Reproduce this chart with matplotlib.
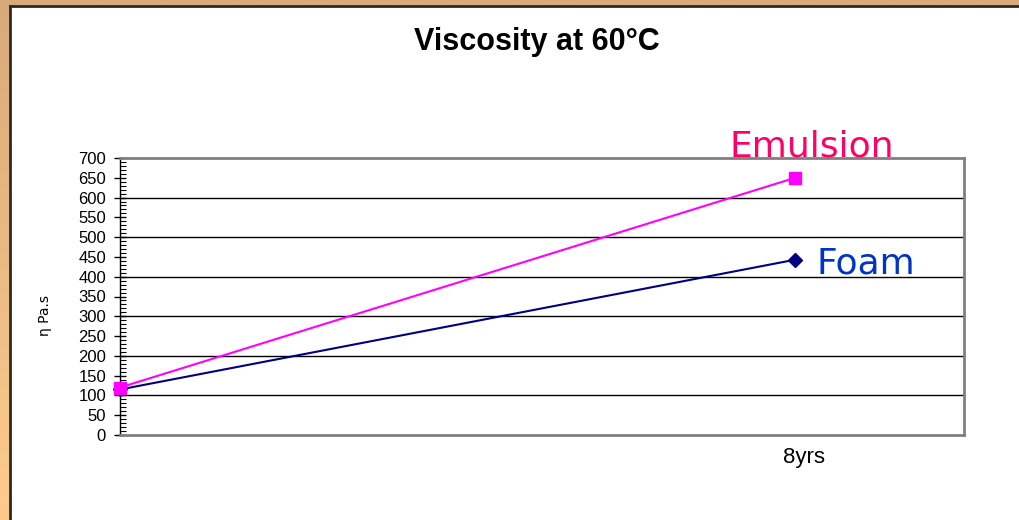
import numpy as np
import matplotlib
matplotlib.use("Agg")
import matplotlib.pyplot as plt
from matplotlib.ticker import MultipleLocator
from matplotlib.patches import Rectangle
from matplotlib.lines import Line2D
from matplotlib.colors import LinearSegmentedColormap
from matplotlib.transforms import ScaledTranslation

# ---- data ----
x_years = [0, 8]
tick_labels = ["8yrs"]
foam = [115, 443]
emulsion = [120, 650]
title = "Viscosity at 60°C"
ylabel = "η Pa.s"

W, H = 1020, 520
fig = plt.figure(figsize=(W / 100, H / 100), dpi=100)

# background frame with tan gradient
bg = fig.add_axes([0, 0, 1, 1])
bg.set_axis_off()
grad = np.linspace(0, 1, 256).reshape(-1, 1)
cmap = LinearSegmentedColormap.from_list("tan", ["#D8A97A", "#FFCB8D"])
bg.imshow(grad, aspect="auto", cmap=cmap, extent=[0, 1, 0, 1], origin="upper")
bg.set_xlim(0, 1)
bg.set_ylim(0, 1)
bg.add_patch(Rectangle((11 / W, 0), 1, 1 - 6 / H, facecolor="white", edgecolor="none"))
bg.add_line(Line2D([10.5 / W, 10.5 / W], [0, 1 - 5.5 / H], color="#2a2a2a", lw=2))
bg.add_line(Line2D([10.5 / W, 1], [1 - 5.5 / H, 1 - 5.5 / H], color="#2a2a2a", lw=2))

ax = fig.add_axes([120 / W, 1 - 435 / H, (964 - 120) / W, (435 - 158) / H])
ax.set_facecolor("white")

ax.plot(x_years, emulsion, color="#FF00FF", lw=1.5, marker="s", markersize=9,
        markerfacecolor="#FF00FF", markeredgecolor="#FF00FF", zorder=4, clip_on=False)
ax.plot(x_years, foam, color="#000080", lw=1.5, marker="D", markersize=7,
        markerfacecolor="#000080", markeredgecolor="#000080", zorder=3, clip_on=False)

ax.set_xlim(0, 10)
ax.set_ylim(0, 700)
ax.yaxis.set_major_locator(MultipleLocator(50))
ax.yaxis.set_minor_locator(MultipleLocator(10))
for v in range(100, 700, 100):
    ax.axhline(v, color="black", lw=1, zorder=1)

ax.set_xticks([x_years[1]])
ax.set_xticklabels(tick_labels, fontsize=16, family="Liberation Sans")
ax.tick_params(axis="x", length=0, pad=9)
for lab in ax.get_xticklabels():
    lab.set_transform(lab.get_transform() + ScaledTranslation(9 / 100, 0, fig.dpi_scale_trans))
ax.tick_params(axis="y", which="major", direction="inout", length=8, width=1, labelsize=12, pad=6)
ax.tick_params(axis="y", which="minor", direction="in", length=4, width=0.8)
for lab in ax.get_yticklabels():
    lab.set_family("Liberation Sans")

for s in ["top", "right", "bottom"]:
    ax.spines[s].set_color("#808080")
    ax.spines[s].set_linewidth(2)
ax.spines["left"].set_color("black")
ax.spines["left"].set_linewidth(1)

fig.text(45 / W, 1 - 316 / H, ylabel, rotation=90, ha="center", va="center",
         fontsize=10, family="DejaVu Sans")

fig.text(537 / W, 1 - 42 / H, title, ha="center", va="center", fontsize=22,
         fontweight="bold", family="Liberation Sans")

ax.annotate("Emulsion", xy=(x_years[1], emulsion[1]), xytext=(-66, 21),
            textcoords="offset pixels", ha="left", va="baseline",
            fontsize=26, color="#FF0066", family="DejaVu Sans")
ax.annotate("Foam", xy=(x_years[1], foam[1]), xytext=(21, -14),
            textcoords="offset pixels", ha="left", va="baseline",
            fontsize=26, color="#0033CC", family="DejaVu Sans")

fig.savefig("out.png", dpi=100)
